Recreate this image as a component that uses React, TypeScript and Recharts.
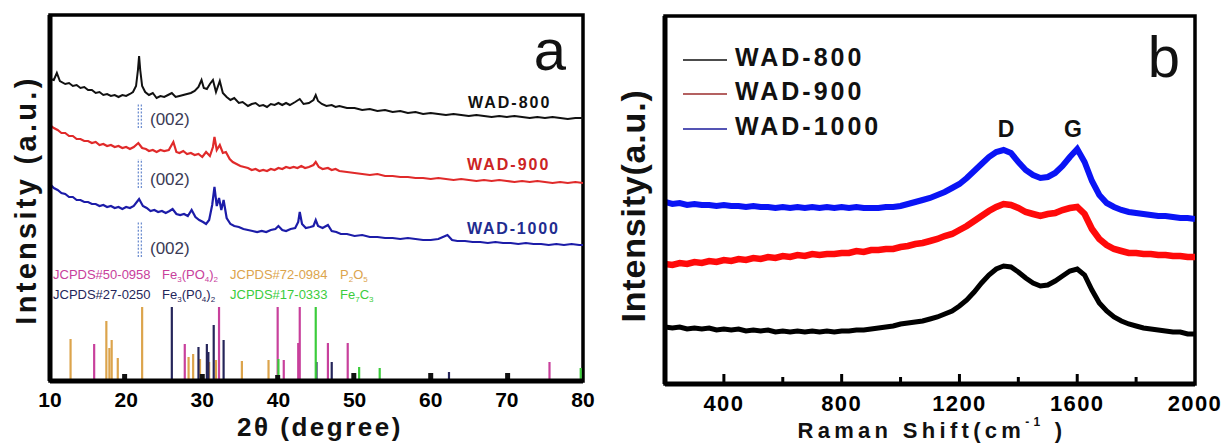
import React from "react";
import {
  ComposedChart,
  Line,
  XAxis,
  YAxis,
  ReferenceLine,
  ReferenceArea,
} from "recharts";

const FONT = '"Liberation Sans", Arial, Helvetica, sans-serif';

// ---------- panel a : XRD ----------
const xrdTicks = [10, 20, 30, 40, 50, 60, 70, 80];

// [2theta, intensity a.u.]
const wad800: [number, number][] = [
  [10, 302], [10.5, 301], [10.9, 308], [11.3, 300], [12, 297], [12.5, 298], [13, 295], [13.5, 296],
  [14, 293], [14.5, 294], [15, 291], [15.5, 291], [16, 288], [16.5, 289], [17, 286], [17.5, 287],
  [18, 285], [18.5, 286], [19, 284], [19.5, 286], [20, 285], [20.5, 287], [20.9, 289], [21.3, 295],
  [21.55, 311], [21.7, 325], [21.85, 311], [22.1, 295], [22.5, 289], [23, 286], [23.5, 288], [24, 283],
  [24.5, 285], [25, 284], [25.5, 286], [26, 288], [26.5, 284], [27, 285], [27.5, 286], [28, 287],
  [28.5, 288], [29, 290], [29.5, 294], [29.9, 301], [30.2, 293], [30.6, 292], [31, 297], [31.4, 301],
  [31.8, 289], [32.3, 300], [32.7, 288], [33.2, 284], [33.7, 281], [34.2, 283], [34.8, 278], [35.3, 279],
  [36, 275], [36.5, 277], [37, 278], [37.5, 275], [38, 276], [38.5, 274], [39, 277], [39.5, 276],
  [40, 278], [40.5, 276], [41, 278], [41.5, 276], [42.2, 279], [42.8, 282], [43.3, 277], [44, 278],
  [44.6, 281], [44.9, 286], [45.2, 280], [45.7, 277], [46.3, 275], [47, 276], [47.5, 274], [48, 275],
  [49, 273], [50, 273], [51, 271], [52, 272], [53, 270], [54, 271], [55, 269], [56, 270],
  [57, 268], [58, 269], [59, 267], [60, 268], [61, 267], [62, 266], [63, 267], [64, 266],
  [65, 265], [66, 266], [67, 265], [68, 264], [69, 265], [70, 264], [71, 265], [72, 264],
  [73, 263], [74, 264], [75, 263], [76, 264], [77, 263], [78, 262], [79, 263], [80, 263],
];

const wad900: [number, number][] = [
  [10, 256], [10.5, 253], [11, 251], [11.5, 248], [12, 248], [12.5, 245], [13, 245], [13.5, 242],
  [14, 242], [14.5, 240], [15, 240], [15.5, 238], [16, 239], [16.5, 236], [17, 237], [17.5, 235],
  [18, 236], [18.5, 234], [19, 235], [19.5, 233], [20, 234], [20.5, 232], [21, 234], [21.6, 238],
  [22.1, 233], [22.6, 232], [23, 230], [23.5, 231], [24, 229], [24.5, 231], [25, 230], [25.6, 231],
  [26.2, 239], [26.6, 229], [27, 228], [27.5, 230], [28, 227], [28.5, 228], [29, 226], [29.5, 227],
  [30, 224], [30.5, 229], [31, 225], [31.4, 234], [31.6, 244], [31.9, 231], [32.3, 236], [32.7, 228],
  [33.1, 229], [33.6, 222], [34, 219], [34.5, 217], [35, 215], [35.5, 214], [36, 213], [36.5, 211],
  [37, 212], [37.5, 210], [38, 211], [38.5, 210], [39, 212], [39.5, 211], [40, 213], [40.5, 212],
  [41, 214], [41.5, 213], [42, 214], [42.5, 213], [43, 215], [43.5, 213], [44, 214], [44.6, 216],
  [44.9, 219], [45.3, 214], [45.8, 212], [46.5, 213], [47, 211], [47.5, 212], [48, 210], [49, 209],
  [50, 208], [51, 207], [52, 206], [53, 207], [54, 205], [55, 205], [56, 204], [57, 204],
  [58, 203], [59, 203], [60, 202], [61, 203], [62, 202], [63, 201], [64, 202], [65, 201],
  [66, 200], [67, 201], [68, 200], [69, 201], [70, 200], [71, 199], [72, 200], [73, 199],
  [74, 200], [75, 199], [76, 198], [77, 199], [78, 198], [79, 199], [80, 198],
];

const wad1000: [number, number][] = [
  [10, 197], [10.5, 193], [11, 191], [11.5, 188], [12, 187], [12.5, 184], [13, 184], [13.5, 181],
  [14, 181], [14.5, 179], [15, 179], [15.5, 177], [16, 177], [16.5, 175], [17, 176], [17.5, 174],
  [18, 175], [18.5, 173], [19, 174], [19.5, 172], [20, 174], [20.5, 173], [21, 175], [21.7, 182],
  [22.2, 175], [22.7, 173], [23.2, 170], [23.7, 171], [24.2, 169], [24.7, 170], [25.2, 168], [25.7, 170],
  [26.1, 172], [26.6, 167], [27.1, 166], [27.6, 167], [28.1, 165], [28.6, 171], [29.1, 164], [29.6, 161],
  [30.1, 159], [30.5, 157], [30.9, 161], [31.3, 176], [31.6, 194], [31.9, 175], [32.2, 183], [32.5, 171],
  [32.8, 181], [33.2, 163], [33.7, 157], [34.2, 155], [34.8, 154], [35.4, 152], [36, 151], [36.6, 150],
  [37.2, 149], [37.8, 150], [38.4, 149], [39, 151], [39.6, 152], [40, 155], [40.5, 151], [41, 150],
  [41.6, 152], [42.2, 153], [42.6, 159], [42.8, 169], [43.1, 157], [43.6, 153], [44.2, 154], [44.6, 155],
  [44.9, 161], [45.2, 155], [45.8, 153], [46.5, 156], [47, 150], [47.6, 149], [48.2, 147], [49, 147],
  [50, 145], [51, 146], [52, 144], [53, 144], [54, 143], [55, 143], [56, 142], [57, 143],
  [58, 142], [59, 141], [60, 141], [61, 142], [61.6, 144], [62.2, 146], [62.8, 141], [63.5, 140],
  [64.5, 140], [65.5, 139], [66.5, 139], [67.5, 138], [68.5, 139], [69.5, 138], [70.5, 138], [71.5, 137],
  [72.5, 138], [73.5, 137], [74.5, 137], [75.5, 136], [76.5, 137], [77.5, 136], [78.5, 137], [79.5, 136],
  [80, 136],
];

// reference patterns [2theta, relative height]
const p2o5Sticks: [number, number][] = [
  [12.7, 42], [17.4, 60], [17.8, 33], [18.1, 41], [18.9, 23], [22.1, 74], [28.2, 24],
  [28.8, 27], [29.7, 22], [30.9, 19], [31.8, 21], [35.2, 20], [38.7, 21],
];
const fePo50Sticks: [number, number][] = [
  [15.8, 37], [27.7, 37], [32.2, 74], [39.9, 74], [40.7, 21], [42.6, 38], [42.8, 74],
  [46.5, 38], [49.1, 38], [75.6, 19],
];
const fePo27Sticks: [number, number][] = [
  [26.0, 74], [29.5, 34], [30.6, 37], [30.8, 29], [31.5, 56], [32.8, 41], [45.0, 19],
  [47.0, 19], [62.4, 9],
];
const fe7c3Sticks: [number, number][] = [
  [40.0, 22], [44.9, 74], [50.6, 14], [53.3, 13], [79.7, 13],
];
const darkSticks: [number, number][] = [
  [19.8, 7], [30.0, 7], [39.9, 6], [49.9, 8], [60.0, 8], [70.1, 8],
];

// (002) marker ranges [from, to]
const c002Ranges: [number, number][] = [[253, 278], [193, 222], [124, 159]];

// ---------- panel b : Raman ----------
const ramanTicks = [400, 800, 1200, 1600, 2000];
const ramanMajor = [400, 800, 1200, 1600];
const ramanMinor = [600, 1000, 1400, 1800];

const ramanShift = [
  200, 225, 250, 275, 300, 325, 350, 375, 400, 425, 450, 475, 500, 525, 550, 575,
  600, 625, 650, 675, 700, 725, 750, 775, 800, 825, 850, 875, 900, 925, 950, 975,
  1000, 1025, 1050, 1075, 1100, 1125, 1150, 1175, 1200, 1225, 1250, 1275, 1300, 1325, 1350, 1375,
  1400, 1425, 1450, 1475, 1500, 1525, 1550, 1575, 1600, 1625, 1650, 1675, 1700, 1725, 1750, 1775,
  1800, 1825, 1850, 1875, 1900, 1925, 1950, 1975, 2000,
];
const raman800 = [
  57, 56, 57, 55, 56, 55, 56, 54, 55, 54, 55, 53, 54, 53, 54, 52,
  53, 52, 53, 52, 53, 52, 53, 52, 53, 53, 54, 54, 55, 56, 57, 58,
  60, 61, 62, 63, 65, 67, 70, 73, 78, 84, 92, 101, 109, 115, 118, 117,
  112, 106, 101, 98, 99, 103, 108, 113, 115, 109, 94, 81, 73, 67, 63, 60,
  58, 56, 55, 54, 53, 52, 52, 50, 50,
];
const raman900 = [
  120, 119, 121, 120, 122, 121, 123, 122, 124, 123, 125, 124, 126, 125, 127, 126,
  128, 127, 129, 128, 130, 129, 130, 130, 131, 131, 133, 132, 134, 134, 135, 135,
  137, 138, 140, 141, 143, 145, 148, 150, 154, 158, 163, 168, 173, 177, 180, 179,
  176, 172, 170, 168, 170, 171, 174, 176, 177, 170, 155, 145, 139, 135, 133, 131,
  131, 130, 130, 129, 129, 128, 128, 127, 127,
];
const raman1000 = [
  182, 180, 181, 179, 180, 179, 179, 178, 179, 178, 178, 177, 178, 177, 177, 176,
  177, 176, 177, 176, 177, 176, 177, 176, 177, 176, 177, 176, 176, 176, 177, 177,
  178, 180, 182, 184, 186, 189, 192, 196, 200, 206, 213, 220, 227, 232, 234, 231,
  222, 214, 209, 206, 207, 211, 218, 227, 235, 222, 203, 189, 181, 177, 174, 172,
  171, 170, 169, 168, 168, 167, 166, 166, 165,
];

const toPts = (arr: [number, number][]) => arr.map(([x, v]) => ({ x, v }));
const ramanPts = (vals: number[]) => ramanShift.map((x, i) => ({ x, v: vals[i] }));

const MAG = "#c8409c";
const ORG = "#dca44c";
const NAVY = "#25255a";
const GRN = "#3ccc3c";

function TickA({ x, y, payload }: any) {
  return (
    <text x={x} y={y} dy={15} textAnchor="middle" fill="#000" fontSize={21} fontWeight={700} fontFamily={FONT}>
      {payload.value}
    </text>
  );
}

function TickB({ x, y, payload }: any) {
  return (
    <text x={x} y={y} dy={15} textAnchor="middle" fill="#000" fontSize={22} fontWeight={700} fontFamily={FONT} letterSpacing={1.4}>
      {payload.value}
    </text>
  );
}

function sticks(list: [number, number][], color: string, w: number, key: string) {
  return list.map(([x, h], i) => (
    <ReferenceLine
      key={`${key}-${i}`}
      segment={[{ x, y: 0 }, { x, y: h }]}
      stroke={color}
      strokeWidth={w}
    />
  ));
}

function XrdPanel() {
  return (
    <ComposedChart
      width={600}
      height={444}
      margin={{ top: 15, right: 17, bottom: 33, left: 50 }}
      style={{ position: "absolute", left: 0, top: 0 }}
    >
      <XAxis
        type="number"
        dataKey="x"
        domain={[10, 80]}
        ticks={xrdTicks}
        interval={0}
        allowDataOverflow
        tickLine={false}
        axisLine={false}
        tickSize={5}
        tickMargin={6}
        tick={<TickA />}
        height={30}
      />
      <YAxis type="number" domain={[0, 366]} allowDataOverflow hide />

      {sticks(p2o5Sticks, ORG, 2.2, "p")}
      {sticks(fePo50Sticks, MAG, 2.2, "m")}
      {sticks(fePo27Sticks, NAVY, 2.2, "n")}
      {sticks(fe7c3Sticks, GRN, 2.2, "g")}
      {sticks(darkSticks, "#111", 5, "d")}

      {c002Ranges.map(([a, b], i) => (
        <React.Fragment key={`c-${i}`}>
          <ReferenceLine segment={[{ x: 21.6, y: a }, { x: 21.6, y: b }]} stroke="#6f8fd0" strokeWidth={1.3} strokeDasharray="2 1.6" />
          <ReferenceLine segment={[{ x: 22.0, y: a }, { x: 22.0, y: b }]} stroke="#6f8fd0" strokeWidth={1.3} strokeDasharray="2 1.6" />
        </React.Fragment>
      ))}

      <Line data={toPts(wad800)} dataKey="v" stroke="#111" strokeWidth={2} dot={false} isAnimationActive={false} type="linear" />
      <Line data={toPts(wad900)} dataKey="v" stroke="#e02a2a" strokeWidth={2.2} dot={false} isAnimationActive={false} type="linear" />
      <Line data={toPts(wad1000)} dataKey="v" stroke="#1c1ca8" strokeWidth={2.2} dot={false} isAnimationActive={false} type="linear" />

      <ReferenceArea x1={10} x2={80} y1={0} y2={366} fill="none" stroke="#000" strokeWidth={3.5} ifOverflow="visible" />
      <ReferenceLine x={10} stroke="#000" strokeWidth={5} />
      <ReferenceLine y={0} stroke="#000" strokeWidth={5} />
    </ComposedChart>
  );
}

function RamanPanel() {
  return (
    <ComposedChart
      width={627}
      height={444}
      margin={{ top: 16, right: 32, bottom: 30, left: 65 }}
      style={{ position: "absolute", left: 600, top: 0 }}
    >
      <XAxis
        type="number"
        dataKey="x"
        domain={[200, 2000]}
        ticks={ramanTicks}
        interval={0}
        allowDataOverflow
        tickLine={false}
        axisLine={false}
        tickSize={6}
        tickMargin={6}
        tick={<TickB />}
        height={30}
      />
      <YAxis type="number" domain={[0, 368]} allowDataOverflow hide />

      <Line data={ramanPts(raman800)} dataKey="v" stroke="#000" strokeWidth={5} dot={false} isAnimationActive={false} type="linear" />
      <Line data={ramanPts(raman900)} dataKey="v" stroke="#ff0a0a" strokeWidth={6.5} dot={false} isAnimationActive={false} type="linear" />
      <Line data={ramanPts(raman1000)} dataKey="v" stroke="#0a14f5" strokeWidth={6} dot={false} isAnimationActive={false} type="linear" />

      {/* inward ticks on the bottom axis */}
      {ramanMajor.map((x) => (
        <ReferenceLine key={`mj-${x}`} segment={[{ x, y: 0 }, { x, y: 10 }]} stroke="#000" strokeWidth={3} />
      ))}
      {ramanMinor.map((x) => (
        <ReferenceLine key={`mn-${x}`} segment={[{ x, y: 0 }, { x, y: 7 }]} stroke="#000" strokeWidth={3} />
      ))}

      <ReferenceArea x1={200} x2={2000} y1={0} y2={368} fill="none" stroke="#000" strokeWidth={3.5} ifOverflow="visible" />
      <ReferenceLine x={200} stroke="#000" strokeWidth={5} />
      <ReferenceLine y={0} stroke="#000" strokeWidth={5} />
    </ComposedChart>
  );
}

function Formula({ x, y, color, parts }: { x: number; y: number; color: string; parts: [string, boolean][] }) {
  // parts: [text, isSubscript]
  let prevSub = false;
  return (
    <text x={x} y={y} fill={color} fontSize={13} fontFamily={FONT}>
      {parts.map(([t, sub], i) => {
        const dy = sub === prevSub ? 0 : sub ? 3 : -3;
        prevSub = sub;
        return (
          <tspan key={i} dy={dy} fontSize={sub ? 8 : 13}>
            {t}
          </tspan>
        );
      })}
    </text>
  );
}

function Overlay() {
  const bold = { fontFamily: FONT, fontWeight: 700 } as const;
  return (
    <svg width={1227} height={444} style={{ position: "absolute", left: 0, top: 0, pointerEvents: "none" }}>
      {/* panel a */}
      <text x={550} y={70} textAnchor="middle" fontSize={58} fontFamily={FONT} fill="#111">a</text>
      <text x={468} y={108} fontSize={16} letterSpacing={2} fill="#111" {...bold}>WAD-800</text>
      <text x={467} y={170} fontSize={16} letterSpacing={2} fill="#cc2424" {...bold}>WAD-900</text>
      <text x={467} y={234} fontSize={16} letterSpacing={1.8} fill="#1f2c90" {...bold}>WAD-1000</text>
      {[125, 185, 254].map((y) => (
        <text key={y} x={150} y={y} fontSize={17} fontFamily={FONT} fill="#3a3a55">(002)</text>
      ))}
      <text x={53} y={279} fontSize={13} fontFamily={FONT} fill={MAG}>JCPDS#50-0958</text>
      <Formula x={162} y={279} color={MAG} parts={[["Fe", false], ["3", true], ["(PO", false], ["4", true], [")", false], ["2", true]]} />
      <text x={230} y={279} fontSize={13} fontFamily={FONT} fill={ORG}>JCPDS#72-0984</text>
      <Formula x={340} y={279} color={ORG} parts={[["P", false], ["2", true], ["O", false], ["5", true]]} />
      <text x={53} y={299} fontSize={13} fontFamily={FONT} fill={NAVY}>JCPDS#27-0250</text>
      <Formula x={162} y={299} color={NAVY} parts={[["Fe", false], ["3", true], ["(P0", false], ["4", true], [")", false], ["2", true]]} />
      <text x={230} y={299} fontSize={13} fontFamily={FONT} fill={GRN}>JCPDS#17-0333</text>
      <Formula x={340} y={299} color={GRN} parts={[["Fe", false], ["7", true], ["C", false], ["3", true]]} />
      <text x={320} y={436} textAnchor="middle" fontSize={26} letterSpacing={2.5} fill="#111" {...bold}>2θ (degree)</text>
      <text transform="translate(36,200) rotate(-90)" textAnchor="middle" fontSize={29} letterSpacing={3.3} fill="#111" {...bold}>
        Intensity (a.u.)
      </text>

      {/* panel b */}
      <text x={1164} y={77} textAnchor="middle" fontSize={58} fontFamily={FONT} fill="#111">b</text>
      <text x={1006} y={137} textAnchor="middle" fontSize={23} fill="#111" {...bold}>D</text>
      <text x={1073} y={137} textAnchor="middle" fontSize={23} fill="#111" {...bold}>G</text>
      {([["WAD-800", "#111", 60], ["WAD-900", "#9b2c2c", 94], ["WAD-1000", "#1b1b9b", 129]] as [string, string, number][]).map(
        ([name, c, y]) => (
          <g key={name}>
            <line x1={683} x2={727} y1={y} y2={y} stroke={c} strokeWidth={1.6} />
            <text x={735} y={y + 6} fontSize={25} letterSpacing={3} fill="#111" {...bold}>{name}</text>
          </g>
        )
      )}
      <text x={932} y={438} textAnchor="middle" fontSize={22} letterSpacing={4.3} fill="#111" {...bold}>
        Raman Shift(cm
        <tspan fontSize={12} dy={-12}>-1</tspan>
        <tspan dy={12}> )</tspan>
      </text>
      <text transform="translate(645,206) rotate(-90)" textAnchor="middle" fontSize={34} letterSpacing={0.8} fill="#111" {...bold}>
        Intensity(a.u.)
      </text>
    </svg>
  );
}

export default function App() {
  return (
    <div style={{ position: "absolute", left: 0, top: 0, width: 1227, height: 444, background: "#fff" }}>
      <XrdPanel />
      <RamanPanel />
      <Overlay />
    </div>
  );
}
